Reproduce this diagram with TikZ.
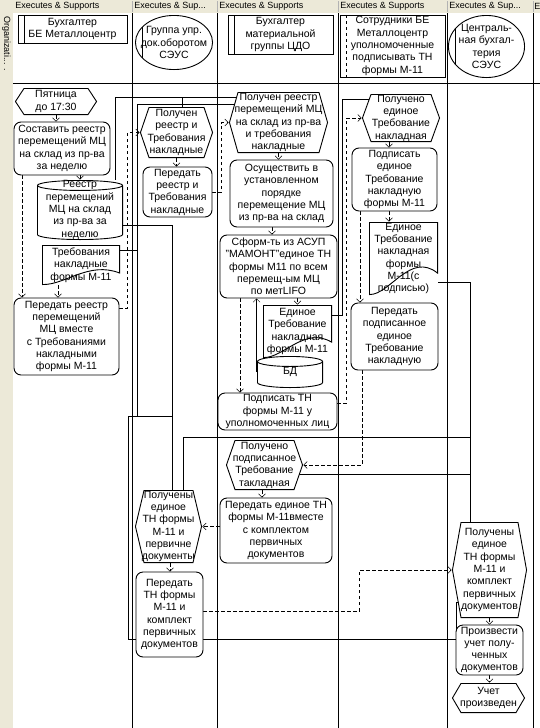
\documentclass[tikz,border=0pt]{standalone}
\usepackage{fontspec}
\setmainfont{Liberation Sans}
\usetikzlibrary{arrows.meta,calc,backgrounds}
\definecolor{panel}{RGB}{236,233,216}
\begin{document}
\begin{tikzpicture}[x=1pt,y=-1pt,line width=0.9pt,
	>={Straight Barb[length=3.5pt,width=7pt]},
	every node/.style={font=\fontsize{10.5}{12.3}\selectfont,align=center,inner sep=0pt},
	small/.style={font=\fontsize{9}{10}\selectfont},
	wh/.style 2 args={minimum width=#1pt,minimum height=#2pt},
	func/.style={draw,rounded corners=7pt,fill=white},
	event/.style={path picture={
		\filldraw[fill=white] let \p1=(path picture bounding box.south west),
			\p2=(path picture bounding box.north east) in
			({\x1+9pt},{\y2-.45pt}) -- ({\x2-9pt},{\y2-.45pt}) -- ({\x2-.45pt},{(\y1+\y2)/2})
			-- ({\x2-9pt},{\y1+.45pt}) -- ({\x1+9pt},{\y1+.45pt}) -- ({\x1+.45pt},{(\y1+\y2)/2}) -- cycle;}},
	doc/.style={path picture={
		\filldraw[fill=white] let \p1=(path picture bounding box.south west),
			\p2=(path picture bounding box.north east), \n1={\x2-\x1}, \n2={\y2-\y1} in
			({\x1+.45pt},{\y2-.45pt}) -- ({\x2-.45pt},{\y2-.45pt}) -- ({\x2-.45pt},{\y1+.3*\n2})
			.. controls ({\x1+.6*\n1},{\y1+.6*\n2}) and ({\x1+.3*\n1},{\y1}) .. ({\x1+.45pt},{\y1+.45pt}) -- cycle;}},
	dbase/.style={path picture={
		\filldraw[fill=white] let \p1=(path picture bounding box.south west),
			\p2=(path picture bounding box.north east), \n1={(\x2-\x1)/2-.45} in
			({\x1+.45pt},{\y2-5.45pt}) -- ({\x1+.45pt},{\y1+5.45pt})
			arc[start angle=180,end angle=360,x radius=\n1*1pt,y radius=5pt]
			-- ({\x2-.45pt},{\y2-5.45pt})
			arc[start angle=0,end angle=180,x radius=\n1*1pt,y radius=5pt] -- cycle
			({\x1+.45pt},{\y2-5.45pt}) arc[start angle=180,end angle=360,x radius=\n1*1pt,y radius=5pt];}},
	orgbox/.style={draw,path picture={\draw[#1] ([xshift=6pt]path picture bounding box.north west)
		-- ([xshift=6pt]path picture bounding box.south west);}},
	orgbox/.default=solid,
	orgoval/.style={path picture={
		\draw let \p1=(path picture bounding box.south west), \p2=(path picture bounding box.north east),
			\n1={(\x2-\x1)/2-.45}, \n2={(\y2-\y1)/2-.45}, \n3={\n2*sqrt(1-((\n1-7)/\n1)^2)} in
			({(\x1+\x2)/2},{(\y1+\y2)/2}) ellipse [x radius=\n1*1pt,y radius=\n2*1pt]
			({\x1+7.45pt},{(\y1+\y2)/2-\n3*1pt}) -- ({\x1+7.45pt},{(\y1+\y2)/2+\n3*1pt});}},
	flow/.style={dash pattern=on 3.5pt off 2.5pt,->},
	info/.style={solid}]
\useasboundingbox (0,0) rectangle (540,728);
\fill[panel] (0,0) rectangle (540,13);
\fill[panel] (0,0) rectangle (13,728);
\foreach \lx in {132,217,338,447,533} {
	\draw[gray!60,line width=.6pt] (\lx,1) -- (\lx,12);
	\draw (\lx,13) -- (\lx,728);
}
\draw (13,83) -- (540,83);
\foreach \lx/\txt in {15/Executes \& Supports,134/Executes \& Sup.{}.{}.,219/Executes \& Supports,
	340/Executes \& Supports,449/Executes \& Sup.{}.{}.,534/E}
	\node[small,anchor=west] (h\lx) at (\lx,6.5) {\txt};
\node[small,rotate=-90,anchor=west] (org) at (6.5,16) {Organizati... .};

% lane heads
\node[orgbox,wh={109}{28}] (r1) at (72.5,29) {Бухгалтер\\БЕ Металлоцентр};
\node[orgoval,wh={78}{55}] (r2) at (174,42.5) {Группа упр.\\док.оборотом\\СЭУС};
\node[orgbox,wh={105}{39}] (r3) at (280.5,34.5) {Бухгалтер\\материальной\\группы ЦДО};
\node[orgbox=dashed,wh={105}{62}] (r4) at (392.5,46) {Сотрудники БЕ\\Металлоцентр\\уполномоченные\\подписывать ТН\\формы М-11};
\node[orgoval,wh={77}{63}] (r5) at (486.5,46.5) {Централь-\\ная бухгал-\\терия\\СЭУС};

% process
\node[event,wh={82}{27}] (e1) at (56,101.5) {Пятница\\до 17:30};
\node[func,wh={96}{53}] (f1) at (62,148.5) {Составить реестр\\перемещений МЦ\\на склад из пр-ва\\за неделю};
\node[dbase,wh={86}{60}] (d1) at (80,210) {Реестр\\перемещений\\МЦ на склад\\из пр-ва за\\неделю};
\node[doc,wh={78}{40}] (d2) at (81,265) {Требования\\накладные\\формы М-11};
\node[func,wh={105}{77}] (f2) at (66.5,336.5) {Передать реестр\\перемещений\\МЦ вместе\\с Требованиями\\накладными\\формы М-11};
\node[event,wh={73}{51}] (e2) at (176.5,132.5) {Получен\\реестр и\\Требования\\накладные};
\node[func,wh={69}{50}] (f3) at (177.5,192) {Передать\\реестр и\\Требования\\накладные};
\node[event,wh={99}{61}] (e3) at (278.5,122.5) {Получен реестр\\перемещений МЦ\\на склад из пр-ва\\и требования\\накладные};
\node[func,wh={103}{67}] (f4) at (281.5,193.5) {Осуществить в\\установленном\\порядке\\перемещение МЦ\\из пр-ва на склад};
\node[func,wh={117}{63}] (f5) at (278.5,266.5) {Сформ-ть из АСУП\\"МАМОНТ"единое ТН\\формы М11 по всем\\перемещ-ым МЦ\\по метLIFO};
\node[dbase,wh={66}{32}] (db) at (290,372) {БД};
\node[doc,wh={69}{53}] (d3) at (297.5,331.5) {Единое\\Требование\\накладная\\формы М-11};
\node[func,wh={119}{37}] (f6) at (277.5,411.5) {Подписать ТН\\формы М-11 у\\уполномоченных лиц};
\node[event,wh={78}{48}] (e4) at (401,118) {Получено\\единое\\Требование\\накладная};
\node[func,wh={85}{63}] (f9) at (394.5,179.5) {Подписать\\единое\\Требование\\накладную\\формы М-11};
\node[doc,wh={69}{73}] (d4) at (403.5,258.5) {Единое\\Требование\\накладная\\формы\\М-11(с\\подписью)};
\node[func,wh={87}{67}] (f10) at (394.5,336.5) {Передать\\подписанное\\единое\\Требование\\накладную};
\node[event,wh={77}{50}] (e5) at (264.5,465) {Получено\\подписанное\\Требование\\такладная};
\node[func,wh={112}{65}] (f8) at (276,530.5) {Передать единое ТН\\формы М-11вместе\\с комплектом\\первичных\\документов};
\node[event,wh={67}{73}] (e6) at (168.5,526.5) {Получены\\единое\\ТН формы\\М-11 и\\первичне\\документы};
\node[func,wh={67}{85}] (f7) at (169.5,614.5) {Передать\\ТН формы\\М-11 и\\комплект\\первичных\\документов};
\node[event,wh={75}{96}] (e7) at (489.5,570) {Получены\\единое\\ТН формы\\М-11 и\\комплект\\первичных\\документов};
\node[func,wh={67}{50}] (f11) at (489.5,650) {Произвести\\учет полу-\\ченных\\документов};
\node[event,wh={73}{30}] (e8) at (488.5,698) {Учет\\произведен};

\coordinate (j1) at (182,97);
\coordinate (j2) at (137,250);
\coordinate (j3) at (172,416);
\coordinate (j4) at (470,437);
\coordinate (j5) at (470,474);
\coordinate (j6) at (128,639);
\coordinate (j7) at (456,602);
\coordinate (j8) at (342,99);

\begin{pgfonlayer}{background}
% control flow
\draw[flow] (e1.south) -- (e1.south |- f1.north);
\draw[flow] (f1.south -| d1.north) -- (d1.north);
\draw[flow] (f1.south -| 22,0) -- (f2.north -| 22,0);
\draw[flow] (d2.south -| 58,0) -- (f2.north -| 58,0);
\draw[flow] (f2.east |- 0,308) -| ([xshift=-12pt]e2.west) -- (e2.west);
\draw[flow] (e2.south) -- (e2.south |- f3.north);
\draw[flow] (f3.east) -| ([xshift=-7pt]e3.west) -- (e3.west);
\draw[flow] (e3.south) -- (e3.south |- f4.north);
\draw[flow] (f4.south -| 272,0) -- (f5.north -| 272,0);
\draw[flow] (f5.south -| d3.north) -- (d3.north);
\draw[flow] (f5.south -| 240,0) -- (f6.north -| 240,0);
\draw[flow] (f6.east |- 0,403) -| ([xshift=-15pt]e4.west) -- (e4.west);
\draw[flow] (e4.south -| 389,0) -- (f9.north -| 389,0);
\draw[flow] (f9.south -| 389,0) -- (d4.north -| 389,0);
\draw[flow] (f9.south -| 360,0) -- (f10.north -| 360,0);
\draw[flow] (f10.south -| 362,0) |- (e5.east);
\draw[flow] (e5.south -| 262,0) -- (f8.north -| 262,0);
\draw[flow] (f8.west |- e6.east) -- (e6.east);
\draw[flow] (e6.south -| 170,0) -- (f7.north -| 170,0);
\draw[flow] (f7.east |- 0,611) -| ([xshift=-92pt]e7.west) -- (e7.west);
\draw[flow] (e7.south) -- (e7.south |- f11.north);
\draw[flow] (f11.south) -- (f11.south |- e8.north);
% documents
\draw[info] (d1.north -| 115,0) |- (e3.center |- j1);
\draw[info] (j1) -- (e2.north -| j1);
\draw[info] (d2.east |- j2) -- (j2) |- (e3.center |- 0,104);
\draw[info] (j2) -- (j2 |- j3);
\draw[info] (d1.east |- 0,225) -| (e6.north -| j3);
\draw[info] (j3) -| (j6) -| (j7) -- (e7.center |- j7);
\draw[info] (d3.east |- 0,315) -| (j8) -- (e4.center |- j8);
\draw[info,->] (db.west) -- (db.west |- f5.south);
\draw[info] (d4.east |- 0,282) -| (j5) -- (e5.center |- j5);
\draw[info] (j5) -- (e7.north -| j5);
\draw[info] (j4) -| (e6.north -| 183,0);
\end{pgfonlayer}
\end{tikzpicture}
\end{document}
